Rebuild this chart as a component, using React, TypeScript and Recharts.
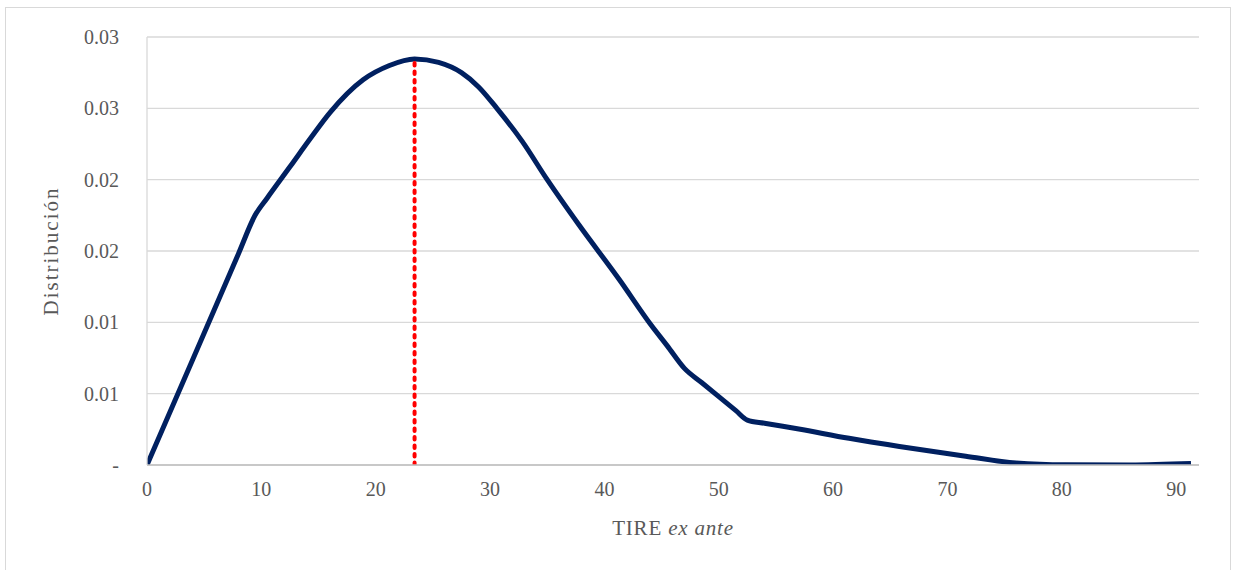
import React from "react";
import { LineChart, Line, XAxis, YAxis, CartesianGrid } from "recharts";

const tireX = [0, 4.0, 8.0, 9.45, 10.5, 12.5, 14.3, 16.0, 18.9, 21.2, 23.4, 25.5, 27.5, 29.0, 30.6, 32.8, 35.0, 37.8, 41.3, 44.0, 45.5, 47.0, 48.5, 51.5, 52.5, 54.0, 57.0, 61.4, 65.8, 71.6, 76.0, 80.3, 86.0, 91.3];
const densidad = [0, 0.0074, 0.01481, 0.0175, 0.0187, 0.0209, 0.0229, 0.0247, 0.0270, 0.0280, 0.02846, 0.02822, 0.0275, 0.0265, 0.0250, 0.0227, 0.0200, 0.0168, 0.0130, 0.0099, 0.00835, 0.00677, 0.00578, 0.00381, 0.00315, 0.00293, 0.00252, 0.00187, 0.0013, 0.00062, 0.00014, 0.00001, 0.0, 0.0001];

const peakX = [23.4, 23.4];
const peakY = [0, 0.02846];

const xTicks = [0, 10, 20, 30, 40, 50, 60, 70, 80, 90];
const yTicks = [0, 0.005, 0.01, 0.015, 0.02, 0.025, 0.03];
const yTickLabels = ["-", "0.01", "0.01", "0.02", "0.02", "0.03", "0.03"];

const xTitle = "TIRE";
const xTitleItalic = "ex ante";
const yTitle = "Distribución";

const curveData = tireX.map((x, i) => ({ x, y: densidad[i] }));
const peakData = peakX.map((x, i) => ({ x, y: peakY[i] }));

const FONT = "'Liberation Serif', 'Times New Roman', serif";
const TXT = "#595959";

export default function App() {
  return (
    <div style={{ position: "absolute", left: 0, top: 0, width: 1237, height: 570, overflow: "hidden", background: "#fff" }}>
      <div style={{ position: "absolute", left: 5, top: 7, width: 1226, height: 600, border: "1px solid #d9d9d9", boxSizing: "border-box" }} />
      <div style={{ position: "absolute", left: 0, top: 0 }}>
        <LineChart width={1237} height={570} margin={{ top: 37, right: 38, bottom: 0, left: 0 }}>
          <CartesianGrid horizontal vertical={false} stroke="#d9d9d9" strokeWidth={1.3} />
          <XAxis
            dataKey="x"
            type="number"
            domain={[0, 92]}
            ticks={xTicks}
            allowDataOverflow
            stroke="#bfbfbf"
            strokeWidth={1.5}
            tickLine={false}
            tickSize={0}
            tickMargin={17}
            height={105}
            tick={{ fontFamily: FONT, fontSize: 20, fill: TXT }}
            label={{
              position: "insideBottom",
              content: (props: any) => {
                const vb = props.viewBox || { x: 147, y: 465, width: 1052 };
                const cx = vb.x + vb.width / 2;
                return (
                  <text x={cx} y={535} textAnchor="middle" fontFamily={FONT} fontSize={21} fill={TXT} letterSpacing={0.8}>
                    {xTitle} <tspan fontStyle="italic">{xTitleItalic}</tspan>
                  </text>
                );
              },
            }}
          />
          <YAxis
            type="number"
            domain={[0, 0.03]}
            ticks={yTicks}
            allowDataOverflow
            width={147}
            stroke="#d9d9d9"
            strokeWidth={1.3}
            tickLine={false}
            tickSize={0}
            tickMargin={28}
            tickFormatter={(v: number, i: number) => yTickLabels[i] ?? String(v)}
            tick={{ fontFamily: FONT, fontSize: 20, fill: TXT }}
            label={{
              position: "insideLeft",
              content: () => (
                <text
                  x={0}
                  y={0}
                  transform="translate(58,251) rotate(-90)"
                  textAnchor="middle"
                  fontFamily={FONT}
                  fontSize={21}
                  fill={TXT}
                  letterSpacing={2}
                >
                  {yTitle}
                </text>
              ),
            }}
          />
          <Line
            data={curveData}
            dataKey="y"
            type="monotone"
            stroke="#002060"
            strokeWidth={5}
            dot={false}
            activeDot={false}
            isAnimationActive={false}
          />
          <Line
            data={peakData}
            dataKey="y"
            type="linear"
            stroke="#ff0000"
            strokeWidth={4}
            strokeDasharray="2.5 6"
            strokeLinecap="round"
            dot={false}
            activeDot={false}
            isAnimationActive={false}
          />
        </LineChart>
      </div>
    </div>
  );
}
